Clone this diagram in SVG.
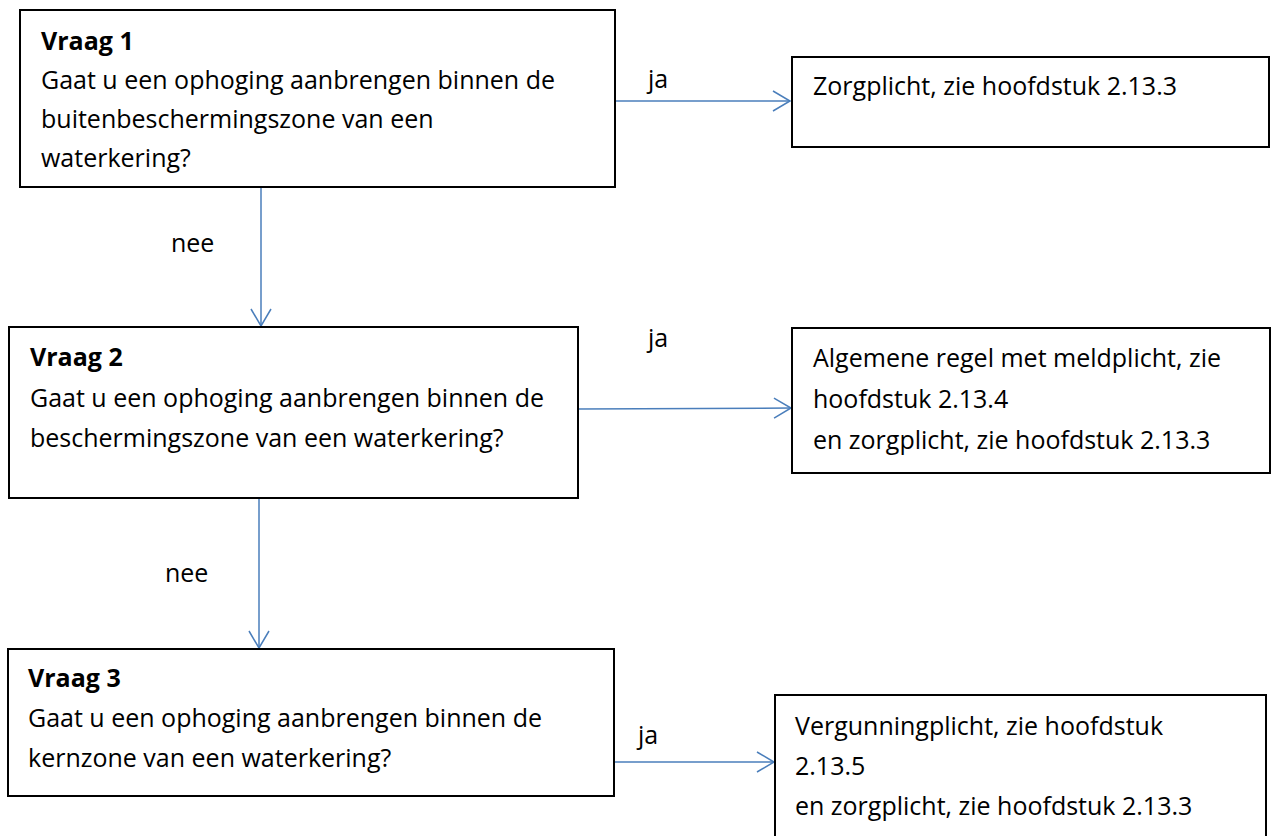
<svg xmlns="http://www.w3.org/2000/svg" width="1272" height="836" viewBox="0 0 1272 836">
<style>
.box{fill:#fff;stroke:#000;stroke-width:2}
text{font-family:"Open Sans","Liberation Sans",sans-serif;font-size:25px;fill:#000}
.b{font-weight:bold}
.c{stroke:#4a7ebb;stroke-width:1.5;fill:none}
</style>
<defs>
<marker id="ah" viewBox="0 0 20 22" refX="18" refY="11" markerWidth="20" markerHeight="22" markerUnits="userSpaceOnUse" orient="auto">
<path d="M1,1 L18,11 L1,21" fill="none" stroke="#4a7ebb" stroke-width="1.5"/>
</marker>
</defs>
<g id="connectors">
<line class="c" x1="615" y1="101" x2="790" y2="101" marker-end="url(#ah)"/>
<line class="c" x1="261" y1="187" x2="261" y2="326" marker-end="url(#ah)"/>
<line class="c" x1="578" y1="409" x2="791" y2="408" marker-end="url(#ah)"/>
<line class="c" x1="259" y1="498" x2="259" y2="648" marker-end="url(#ah)"/>
<line class="c" x1="614" y1="762" x2="774" y2="762" marker-end="url(#ah)"/>
<text x="648" y="88">ja</text>
<text x="171" y="252">nee</text>
<text x="648" y="347">ja</text>
<text x="165" y="582">nee</text>
<text x="638" y="744">ja</text>
</g>
<g id="q1">
<rect class="box" x="20" y="10" width="595" height="177"/>
<text class="b" x="41" y="50">Vraag 1</text>
<text x="41" y="89">Gaat u een ophoging aanbrengen binnen de</text>
<text x="41" y="128">buitenbeschermingszone van een</text>
<text x="41" y="167">waterkering?</text>
</g>
<g id="a1">
<rect class="box" x="792" y="57" width="477" height="90"/>
<text x="813" y="95">Zorgplicht, zie hoofdstuk 2.13.3</text>
</g>
<g id="q2">
<rect class="box" x="9" y="327" width="569" height="171"/>
<text class="b" x="30" y="366">Vraag 2</text>
<text x="30" y="407">Gaat u een ophoging aanbrengen binnen de</text>
<text x="30" y="447">beschermingszone van een waterkering?</text>
</g>
<g id="a2">
<rect class="box" x="792" y="328" width="478" height="145"/>
<text x="813" y="367">Algemene regel met meldplicht, zie</text>
<text x="813" y="408">hoofdstuk 2.13.4</text>
<text x="813" y="449">en zorgplicht, zie hoofdstuk 2.13.3</text>
</g>
<g id="q3">
<rect class="box" x="8" y="649" width="606" height="147"/>
<text class="b" x="28" y="687">Vraag 3</text>
<text x="28" y="727">Gaat u een ophoging aanbrengen binnen de</text>
<text x="28" y="767">kernzone van een waterkering?</text>
</g>
<g id="a3">
<rect class="box" x="775" y="695" width="491" height="160"/>
<text x="795" y="735">Vergunningplicht, zie hoofdstuk</text>
<text x="795" y="775">2.13.5</text>
<text x="795" y="815">en zorgplicht, zie hoofdstuk 2.13.3</text>
</g>
</svg>
